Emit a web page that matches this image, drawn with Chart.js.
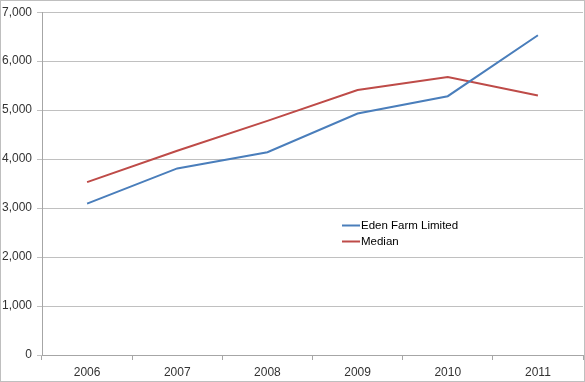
<!DOCTYPE html>
<html>
<head>
<meta charset="utf-8">
<script src="https://cdn.jsdelivr.net/npm/chart.js@4"></script>
<style>
html,body{margin:0;padding:0;background:#fff;}
#wrap{width:585px;height:382px;}
</style>
</head>
<body>
<div id="wrap"><canvas id="c" width="585" height="382"></canvas></div>
<script>
const categories = ['2006','2007','2008','2009','2010','2011'];
const edenFarm = [3090, 3810, 4140, 4930, 5285, 6530];
const median = [3530, 4170, 4780, 5410, 5675, 5300];
const seriesNames = ['Eden Farm Limited', 'Median'];
const yTicks = [0, 1000, 2000, 3000, 4000, 5000, 6000, 7000];

const FONT = 'Liberation Sans, Arial, sans-serif';

const frame = {
  id: 'frame',
  beforeDraw(chart) {
    const ctx = chart.ctx;
    ctx.save();
    ctx.fillStyle = '#fff';
    ctx.fillRect(0, 0, chart.width, chart.height);
    ctx.restore();
  },
  afterDraw(chart) {
    const ctx = chart.ctx;
    ctx.save();
    ctx.strokeStyle = '#bfbfbf';
    ctx.lineWidth = 1;
    ctx.strokeRect(0.5, 0.5, chart.width - 1, chart.height - 1);
    // legend inside plot
    const x0 = 342, y0 = 225, gap = 16;
    ctx.font = '11.5px ' + FONT;
    ctx.textBaseline = 'middle';
    ctx.textAlign = 'left';
    chart.data.datasets.forEach((ds, i) => {
      const y = y0 + i * gap;
      ctx.strokeStyle = ds.borderColor;
      ctx.lineWidth = 2;
      ctx.beginPath();
      ctx.moveTo(x0, y + 0.5);
      ctx.lineTo(x0 + 18, y + 0.5);
      ctx.stroke();
      ctx.fillStyle = '#000';
      ctx.fillText(ds.label, x0 + 19, y + 1);
    });
    ctx.restore();
  }
};

new Chart(document.getElementById('c'), {
  type: 'line',
  data: {
    labels: categories,
    datasets: [
      { label: seriesNames[0], data: edenFarm, borderColor: '#4a7ebb', backgroundColor: '#4a7ebb', borderWidth: 2, pointRadius: 0, tension: 0, fill: false },
      { label: seriesNames[1], data: median, borderColor: '#be4b48', backgroundColor: '#be4b48', borderWidth: 2, pointRadius: 0, tension: 0, fill: false }
    ]
  },
  options: {
    responsive: false,
    animation: false,
    devicePixelRatio: 1,
    layout: { padding: { left: 0, right: 2, top: 7, bottom: 0 } },
    plugins: { legend: { display: false }, tooltip: { enabled: false } },
    scales: {
      x: {
        offset: true,
        grid: { offset: true, drawOnChartArea: false, drawTicks: true, tickLength: 5, color: '#a6a6a6' },
        border: { color: '#a6a6a6', width: 1 },
        ticks: { color: '#333', font: { family: FONT, size: 12 }, padding: 5, maxRotation: 0 },
        afterFit(s) { s.height = 27; }
      },
      y: {
        min: 0, max: 7000,
        afterBuildTicks(s) { s.ticks = yTicks.map(v => ({ value: v })); },
        grid: { color: '#c0c0c0', tickLength: 5, drawTicks: true },
        border: { color: '#a6a6a6', width: 1 },
        ticks: { color: '#333', font: { family: FONT, size: 12 }, padding: 5,
          callback: v => Number(v).toLocaleString('en-US') },
        afterFit(s) { s.width = 42; }
      }
    }
  },
  plugins: [frame]
});
</script>
</body>
</html>
